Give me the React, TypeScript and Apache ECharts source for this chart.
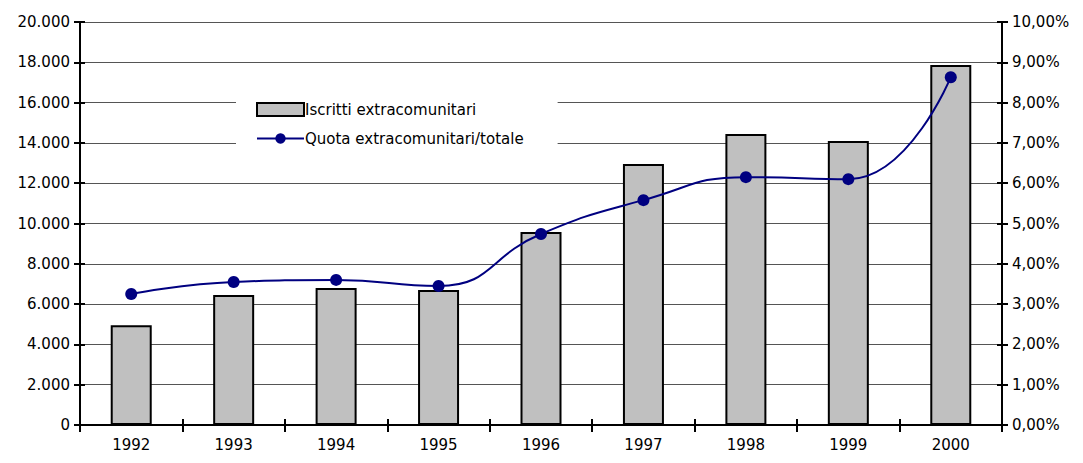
import React, { useEffect, useRef } from "react";
import * as echarts from "echarts";

const years = ["1992", "1993", "1994", "1995", "1996", "1997", "1998", "1999", "2000"];
const iscritti = [4950, 6450, 6800, 6700, 9580, 12950, 14440, 14100, 17870];
const quota = [0.0325, 0.0355, 0.036, 0.0345, 0.0474, 0.0558, 0.0615, 0.061, 0.0863];

const FONT = "DejaVu Sans";
const FS = 15;

function fmtThousands(v: number): string {
  const s = Math.round(v).toString();
  return s.replace(/\B(?=(\d{3})+(?!\d))/g, ".");
}
function fmtPct(v: number): string {
  return (v * 100).toFixed(2).replace(".", ",") + "%";
}

export default function App() {
  const ref = useRef<HTMLDivElement>(null);
  useEffect(() => {
    if (!ref.current) return;
    const chart = echarts.init(ref.current, null, { renderer: "svg" });
    const axisLine = { show: true, lineStyle: { color: "#000", width: 2 } };
    chart.setOption({
      animation: false,
      textStyle: { fontFamily: FONT },
      grid: { left: 72, right: 73, top: 14, bottom: 30 },
      legend: {
        left: 228,
        top: 90,
        orient: "vertical",
        itemWidth: 47,
        itemHeight: 13,
        itemGap: 14,
        backgroundColor: "#fff",
        padding: [4, 34, 4, 20],
        textStyle: { fontFamily: FONT, fontSize: FS, color: "#000", padding: [0, 0, 0, -4] },
        data: [
          { name: "Iscritti extracomunitari", icon: "rect" },
          { name: "Quota extracomunitari/totale" },
        ],
      },
      xAxis: [
        {
          type: "category",
          data: years,
          boundaryGap: true,
          axisLine,
          axisTick: { show: true, length: 7, lineStyle: { color: "#000", width: 2 } },
          axisLabel: { fontFamily: FONT, fontSize: FS, color: "#000", margin: 12 },
        },
        {
          type: "category",
          data: years,
          position: "bottom",
          boundaryGap: true,
          axisLine: { show: false },
          axisTick: { show: true, inside: true, length: 6, lineStyle: { color: "#000", width: 2 } },
          axisLabel: { show: false },
        },
      ],
      yAxis: [
        {
          type: "value",
          min: 0,
          max: 20000,
          interval: 2000,
          position: "left",
          axisLine,
          axisTick: { show: true, length: 6, lineStyle: { color: "#000", width: 2 } },
          axisLabel: {
            fontFamily: FONT,
            fontSize: FS,
            color: "#000",
            margin: 10,
            formatter: (v: number) => fmtThousands(v),
          },
          splitLine: { show: true, lineStyle: { color: "#555", width: 1 } },
        },
        {
          type: "value",
          min: 0,
          max: 0.1,
          interval: 0.01,
          position: "right",
          axisLine,
          axisTick: { show: true, length: 6, lineStyle: { color: "#000", width: 2 } },
          axisLabel: {
            fontFamily: FONT,
            fontSize: FS,
            color: "#000",
            margin: 10,
            formatter: (v: number) => fmtPct(v),
          },
          splitLine: { show: false },
        },
        {
          type: "value",
          min: 0,
          max: 20000,
          interval: 2000,
          position: "left",
          axisLine: { show: false },
          axisTick: { show: true, inside: true, length: 5, lineStyle: { color: "#000", width: 2 } },
          axisLabel: { show: false },
          splitLine: { show: false },
        },
        {
          type: "value",
          min: 0,
          max: 0.1,
          interval: 0.01,
          position: "right",
          axisLine: { show: false },
          axisTick: { show: true, inside: true, length: 5, lineStyle: { color: "#000", width: 2 } },
          axisLabel: { show: false },
          splitLine: { show: false },
        },
      ],
      series: [
        {
          name: "Iscritti extracomunitari",
          type: "bar",
          data: iscritti,
          xAxisIndex: 0,
          yAxisIndex: 0,
          barWidth: 41,
          itemStyle: { color: "#C0C0C0", borderColor: "#000", borderWidth: 2 },
          z: 2,
        },
        {
          name: "Quota extracomunitari/totale",
          type: "line",
          data: quota,
          xAxisIndex: 0,
          yAxisIndex: 1,
          smooth: 0.5,
          symbol: "circle",
          symbolSize: 12,
          lineStyle: { color: "#000080", width: 2 },
          itemStyle: { color: "#000080" },
          z: 3,
        },
      ],
    });
    return () => chart.dispose();
  }, []);
  return <div ref={ref} style={{ width: 1067, height: 447 }} />;
}
